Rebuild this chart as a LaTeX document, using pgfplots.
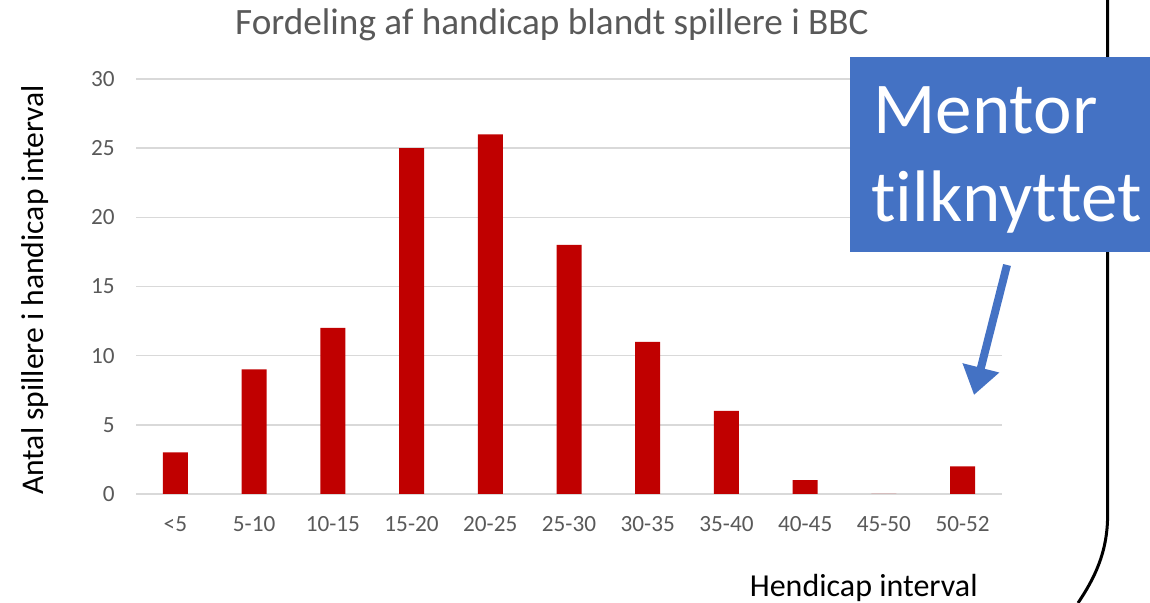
\documentclass[border=0pt]{standalone}
\usepackage{fontspec}
\setmainfont{Carlito}
\usepackage{pgfplots}
\pgfplotsset{compat=1.18}
\usetikzlibrary{arrows.meta}
\definecolor{barred}{HTML}{C00000}
\definecolor{boxblue}{HTML}{4472C4}
\definecolor{txtgray}{HTML}{595959}
\definecolor{gridgray}{HTML}{D9D9D9}
\begin{document}
\begin{tikzpicture}
\useasboundingbox (0,0) rectangle (575pt,301.5pt);
\draw[black, line width=1.5pt] (553.8pt,301.5pt) -- (553.8pt,44pt) .. controls (553.8pt,25pt) and (547pt,12pt) .. (539pt,0pt);
\begin{axis}[
  at={(68pt,54.5pt)}, anchor=south west,
  scale only axis, width=433pt, height=207.5pt,
  xmin=-0.5, xmax=10.5, ymin=0, ymax=30,
  xtick={0,1,2,3,4,5,6,7,8,9,10},
  xticklabels={{<5},{5-10},{10-15},{15-20},{20-25},{25-30},{30-35},{35-40},{40-45},{45-50},{50-52}},
  ytick={0,5,10,15,20,25,30},
  ymajorgrids, grid style={gridgray, line width=0.75pt},
  axis x line*=bottom, axis y line*=left,
  x axis line style={gridgray, line width=0.75pt, -},
  y axis line style={draw=none},
  major tick length=0pt,
  tick label style={font=\fontsize{11.6}{13}\selectfont, text=txtgray},
  /pgf/number format/assume math mode=true,
  yticklabel style={inner sep=0pt, xshift=-10.5pt},
  xticklabel style={inner sep=0pt, yshift=-11pt},
  clip=false,
]
\addplot[ybar, bar width=12.5pt, fill=barred, draw=none] coordinates {
(0,3) (1,9) (2,12) (3,25) (4,26) (5,18) (6,11) (7,6) (8,1) (9,0) (10,2)};
\end{axis}
\node[font=\fontsize{18.6}{22}\selectfont, text=txtgray] at (276pt,289pt) {Fordeling af handicap blandt spillere i BBC};
\node[font=\fontsize{15.8}{19}\selectfont, rotate=90] at (17.5pt,156.5pt) {Antal spillere i handicap interval};
\node[font=\fontsize{16}{19}\selectfont, anchor=east, inner sep=0pt] at (489pt,7.5pt) {Hendicap interval};
\fill[boxblue] (425pt,175.5pt) rectangle (575pt,273pt);
\node[font=\fontsize{36.5}{40}\selectfont, text=white, anchor=base west, inner sep=0pt] at (436.5pt,234.5pt) {Mentor};
\node[font=\fontsize{36.5}{40}\selectfont, text=white, anchor=base west, inner sep=0pt] at (435.5pt,190.5pt) {t\kern0pt ilknyt\kern0pt tet};
\draw[boxblue, line width=4pt, -{Triangle[width=18pt,length=14pt]}] (503.5pt,169pt) -- (487pt,104pt);
\end{tikzpicture}
\end{document}
